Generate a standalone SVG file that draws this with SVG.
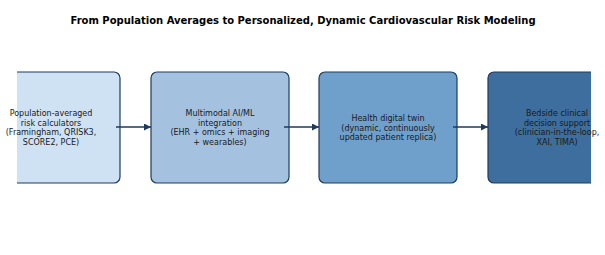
<svg xmlns="http://www.w3.org/2000/svg" width="605" height="255" viewBox="0 0 605 255">
<style>
.box{stroke:#1f3a5f;stroke-width:1.2}
.t{font-family:"DejaVu Sans",sans-serif;font-size:8px;fill:#1a1a1a;text-anchor:middle}
.title{font-family:"DejaVu Sans",sans-serif;font-size:10px;font-weight:bold;fill:#000;text-anchor:middle}
.conn{stroke:#1f3a5f;stroke-width:1.3;fill:none}
</style>
<defs>
<clipPath id="ax"><rect x="17" y="0" width="574" height="255"/></clipPath>
<marker id="ah" viewBox="0 0 10 10" refX="10" refY="5" markerWidth="7" markerHeight="7" markerUnits="userSpaceOnUse" orient="auto">
<path d="M0,0 L10,5 L0,10 z" fill="#1f3a5f"/>
</marker>
</defs>
<rect width="605" height="255" fill="#fff"/>
<text class="title" x="303" y="24">From Population Averages to Personalized, Dynamic Cardiovascular Risk Modeling</text>
<g id="n1">
<rect class="box" clip-path="url(#ax)" x="-18" y="72" width="138" height="111" rx="6" fill="#cfe2f3"/>
<text class="t" x="51"><tspan x="51" y="116">Population-averaged</tspan><tspan x="51" y="125.5">risk calculators</tspan><tspan x="51" y="135">(Framingham, QRISK3,</tspan><tspan x="51" y="144.5">SCORE2, PCE)</tspan></text>
</g>
<g id="n2">
<rect class="box" x="151" y="72" width="138" height="111" rx="6" fill="#a4c2e0"/>
<text class="t"><tspan x="220" y="116">Multimodal AI/ML</tspan><tspan x="220" y="125.5">integration</tspan><tspan x="220" y="135">(EHR + omics + imaging</tspan><tspan x="220" y="144.5">+ wearables)</tspan></text>
</g>
<g id="n3">
<rect class="box" x="319" y="72" width="138" height="111" rx="6" fill="#6fa0cb"/>
<text class="t"><tspan x="388" y="121">Health digital twin</tspan><tspan x="388" y="130.5">(dynamic, continuously</tspan><tspan x="388" y="140">updated patient replica)</tspan></text>
</g>
<g id="n4">
<rect class="box" clip-path="url(#ax)" x="488" y="72" width="138" height="111" rx="6" fill="#3d6e9e"/>
<text class="t"><tspan x="557" y="116">Bedside clinical</tspan><tspan x="557" y="125.5">decision support</tspan><tspan x="557" y="135">(clinician-in-the-loop,</tspan><tspan x="557" y="144.5">XAI, TIMA)</tspan></text>
</g>
<g id="connectors">
<line class="conn" x1="116" y1="127" x2="151" y2="127" marker-end="url(#ah)"/>
<line class="conn" x1="284" y1="127" x2="319" y2="127" marker-end="url(#ah)"/>
<line class="conn" x1="453" y1="127" x2="488" y2="127" marker-end="url(#ah)"/>
</g>
</svg>
